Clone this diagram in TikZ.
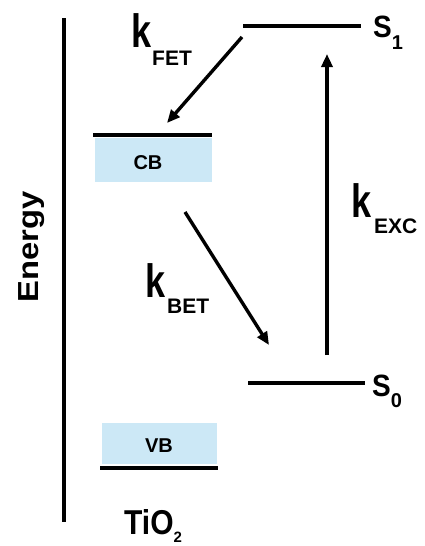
\documentclass[tikz,border=0pt]{standalone}
\usepackage{fontspec}
\setmainfont{Liberation Sans}
\usetikzlibrary{arrows.meta}
\definecolor{bandblue}{RGB}{204,232,246}
\newcommand{\kglyph}{\scalebox{1}[1.3]{\fontsize{36}{36}\selectfont\bfseries k}}
\newcommand{\subtxt}[1]{{\fontsize{21}{21}\selectfont\bfseries #1}}
\begin{document}
\begin{tikzpicture}[x=1pt,y=-1pt,
  level/.style={line width=3.8pt},
  axisline/.style={line width=3.6pt},
  trans/.style={line width=3.4pt,-{Triangle[length=13pt,width=11pt]}},
  band/.style={fill=bandblue,draw=none},
  lbl/.style={inner sep=0pt,anchor=base west}]
\useasboundingbox (0,0) rectangle (424,546);
% energy axis
\coordinate (axtop) at (64,18);
\coordinate (axbot) at (64,522);
\draw[axisline] (axtop) -- (axbot);
\node[rotate=90,inner sep=0pt] (energy) at (32,247) {\scalebox{1.13}[1]{\fontsize{29}{29}\selectfont\bfseries Energy}};
% bands
\fill[band] (95,138) rectangle (212,182);
\coordinate (cbl) at (93,135);
\coordinate (cbr) at (212,135);
\draw[level] (cbl) -- (cbr);
\node[inner sep=0pt] (cb) at (148,163) {\fontsize{20}{20}\selectfont\bfseries CB};
\fill[band] (102,423) rectangle (217,464);
\coordinate (vbl) at (100,468);
\coordinate (vbr) at (218,468);
\draw[level] (vbl) -- (vbr);
\node[inner sep=0pt] (vb) at (159,446) {\fontsize{20}{20}\selectfont\bfseries VB};
\node[lbl] (tio2) at (124,534) {\scalebox{1}[1.15]{\fontsize{30}{30}\selectfont\bfseries TiO}\raisebox{-8pt}{\fontsize{15}{15}\selectfont\bfseries 2}};
% dye levels
\coordinate (s1l) at (243,26);
\coordinate (s1r) at (361,26);
\draw[level] (s1l) -- (s1r);
\node[lbl] (s1) at (373,37) {\scalebox{1}[1.1]{\fontsize{28}{28}\selectfont\bfseries S}\raisebox{-13pt}{\fontsize{20}{20}\selectfont\bfseries 1}};
\coordinate (s0l) at (248,383);
\coordinate (s0r) at (365,383);
\draw[level] (s0l) -- (s0r);
\node[lbl] (s0) at (372,396) {\scalebox{1}[1.1]{\fontsize{28}{28}\selectfont\bfseries S}\raisebox{-11pt}{\fontsize{20}{20}\selectfont\bfseries 0}};
% transitions
\coordinate (fetA) at (242,37);
\coordinate (fetB) at (167,123);
\draw[trans] (fetA) -- (fetB);
\coordinate (betA) at (185,212);
\coordinate (betB) at (269,345);
\draw[trans] (betA) -- (betB);
\coordinate (excA) at (327,355);
\coordinate (excB) at (327,54);
\draw[trans] (excA) -- (excB);
% rate labels
\node[lbl] (kfet) at (131,47) {\kglyph\kern1pt\raisebox{-18pt}{\subtxt{FET}}};
\node[lbl] (kexc) at (351,217) {\kglyph\kern3pt\raisebox{-16pt}{\subtxt{EXC}}};
\node[lbl] (kbet) at (145,297) {\kglyph\kern2pt\raisebox{-16pt}{\subtxt{BET}}};
\end{tikzpicture}
\end{document}
